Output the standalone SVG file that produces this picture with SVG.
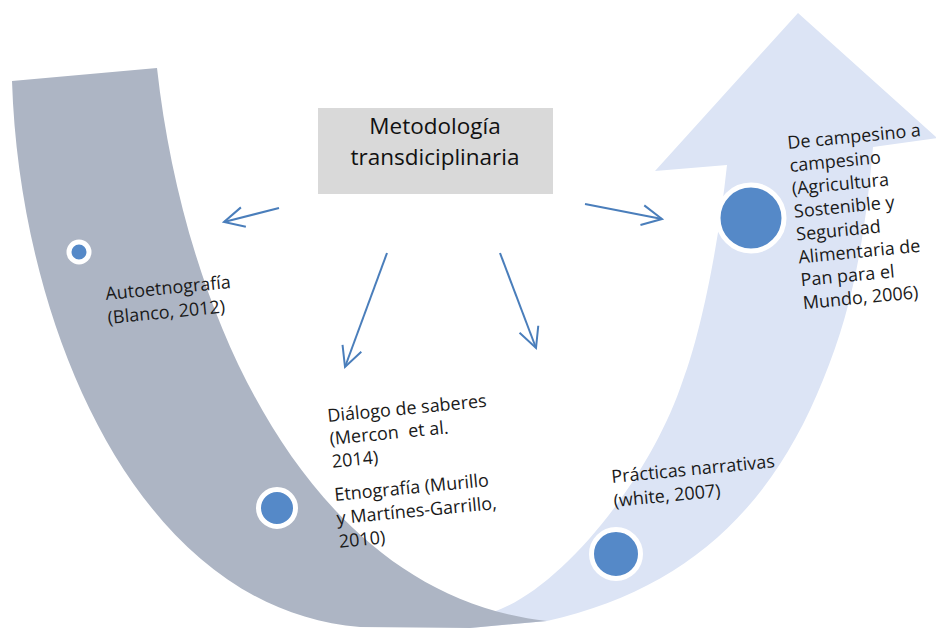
<svg xmlns="http://www.w3.org/2000/svg" width="936" height="629" viewBox="0 0 936 629">
<style>
.lbl{font-family:"Open Sans","Liberation Sans",sans-serif;font-size:18px;fill:#1a1a1a}
.ttl{font-family:"Open Sans","Liberation Sans",sans-serif;font-size:22.5px;fill:#111;text-anchor:middle}
.dot{fill:#5589c8;stroke:#ffffff;stroke-width:5}
.con{stroke:#4a7ebb;stroke-width:2;fill:none;marker-end:url(#vh)}
</style>
<defs>
<marker id="vh" viewBox="0 0 12 12" refX="11" refY="6" markerWidth="12" markerHeight="12" orient="auto" markerUnits="strokeWidth">
<path d="M1,1 L11,6 L1,11" fill="none" stroke="#4a7ebb" stroke-width="1"/>
</marker>
</defs>
<rect width="936" height="629" fill="#ffffff"/>
<g id="band-blue">
<path d="M470,628 L470,614 L493,612 C560,590 650,480 683,380 C700,335 718,250 727,165 L655,171 L798,13 L937,138 L873,147 C865,240 852,310 823,380 C771,510 685,590 547,621 L470,628 Z" fill="#dce4f5"/>
</g>
<g id="band-gray">
<path d="M12,81 L157,68 C185,320 310,595 547,621 L470,628 L360,627 C140,610 20,330 12,81 Z" fill="#adb5c4"/>
</g>
<g id="title">
<rect x="318" y="108" width="235" height="86" fill="#d9d9d9"/>
<text class="ttl" x="435" y="134">Metodología</text>
<text class="ttl" x="435" y="165">transdiciplinaria</text>
</g>
<g id="n-autoetnografia">
<circle class="dot" cx="79" cy="252" r="10"/>
<text class="lbl" x="106" y="300" transform="rotate(-5.5 106 300)"><tspan x="106">Autoetnografía</tspan><tspan x="106" dy="24">(Blanco, 2012)</tspan></text>
</g>
<g id="n-dialogo">
<text class="lbl" x="328" y="422" transform="rotate(-5.5 328 422)"><tspan x="328">Diálogo de saberes</tspan><tspan x="328" dy="23">(Mercon&#160; et al.</tspan><tspan x="328" dy="23">2014)</tspan></text>
</g>
<g id="n-etnografia">
<circle class="dot" cx="277" cy="508" r="18.5"/>
<text class="lbl" x="335" y="501" transform="rotate(-5.5 335 501)"><tspan x="335">Etnografía (Murillo</tspan><tspan x="335" dy="23.5">y Martínes-Garrillo,</tspan><tspan x="335" dy="23.5">2010)</tspan></text>
</g>
<g id="n-practicas">
<circle class="dot" cx="616" cy="554" r="24.5"/>
<text class="lbl" x="612" y="483" transform="rotate(-5.5 612 483)"><tspan x="612">Prácticas narrativas</tspan><tspan x="612" dy="24">(white, 2007)</tspan></text>
</g>
<g id="n-campesino">
<circle class="dot" cx="751" cy="218" r="33"/>
<text class="lbl" x="788" y="149" transform="rotate(-5.5 788 149)"><tspan x="788">De campesino a</tspan><tspan x="788" dy="23">campesino</tspan><tspan x="788" dy="23">(Agricultura</tspan><tspan x="788" dy="23">Sostenible y</tspan><tspan x="788" dy="23">Seguridad</tspan><tspan x="788" dy="23">Alimentaria de</tspan><tspan x="788" dy="23">Pan para el</tspan><tspan x="788" dy="23">Mundo, 2006)</tspan></text>
</g>
<g id="connectors">
<line class="con" x1="279" y1="208" x2="224" y2="222"/>
<line class="con" x1="387" y1="253" x2="345" y2="367"/>
<line class="con" x1="500" y1="253" x2="536" y2="348"/>
<line class="con" x1="585" y1="204" x2="662" y2="219"/>
</g>
</svg>
